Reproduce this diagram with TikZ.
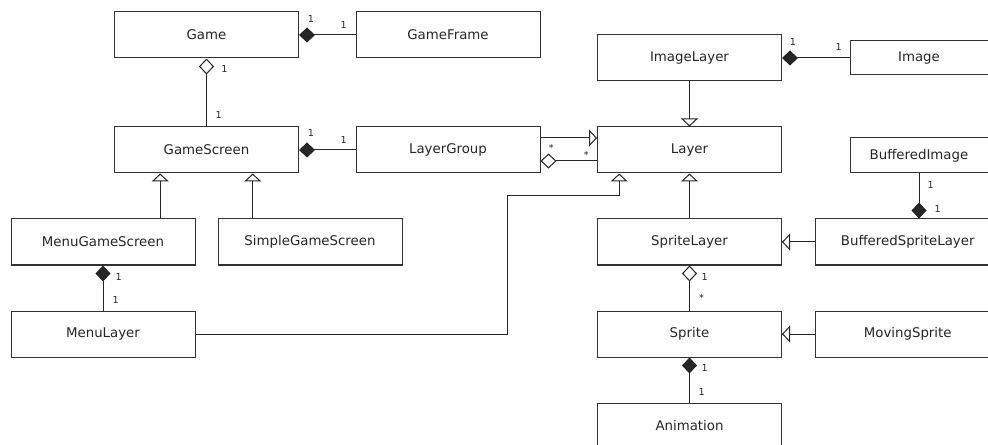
\documentclass[tikz,border=0pt]{standalone}
\usepackage{fontspec}
\setsansfont{DejaVu Sans}
\usetikzlibrary{
	positioning		% Allows above=5pt style placement of labels
	, arrows.meta	% Diamond and Triangle tips
	, calc			% Points part way along an edge
}

\begin{document}
\begin{tikzpicture}[
		x=0.75pt, y=-0.75pt,
		element/.style={
			rectangle,
			draw=black!80, line width=0.75pt,
			minimum width=138pt,
			minimum height=34.5pt,
			inner sep=0pt,
			text=black!85,
			font=\sffamily\fontsize{10}{12}\selectfont
		},
		smallelement/.style={
			element,
			minimum width=103.5pt
		},
		link/.style={
			draw=black!85,
			line width=0.75pt
		},
		generalise/.style={
			link,
			-{Triangle[open, length=6pt, width=12.75pt]}
		},
		compose/.style={
			link,
			{Diamond[length=12pt, width=11.25pt]}-
		},
		aggregate/.style={
			link,
			{Diamond[open, length=12pt, width=11.25pt]}-
		},
		mult/.style={
			inner sep=1pt,
			text=black!85,
			font=\sffamily\fontsize{7.2}{9}\selectfont
		}]

	\useasboundingbox (0,0) rectangle (988,445);

	%%% Draw all of the classes
	\foreach \cname/\px/\py in {Game/206.5/35, GameFrame/448/35, GameScreen/206.5/150,
			LayerGroup/448/150, MenuGameScreen/103/242, SimpleGameScreen/310/242,
			MenuLayer/103/334, ImageLayer/689.5/58, Layer/689.5/150, SpriteLayer/689.5/242,
			Sprite/689.5/334, Animation/689.5/426, BufferedSpriteLayer/907.7/242,
			MovingSprite/907.7/334} {
		\node [element] (cls\cname) at (\px,\py) {\cname};
	};
	\node [smallelement, minimum height=25.5pt] (clsImage) at (919,58) {Image};
	\node [smallelement, minimum height=26.25pt] (clsBufferedImage) at (919,155.5) {BufferedImage};

	%%% Compositions
	\draw [compose] (clsGame.east) -- node[mult, pos=.21, above=8pt] {1} node[mult, pos=.79, above=3.5pt] {1} (clsGameFrame.west);
	\draw [compose] (clsGameScreen.east) -- node[mult, pos=.21, above=8.5pt] {1} node[mult, pos=.79, above=3.5pt] {1} (clsLayerGroup.west);
	\draw [compose] (clsMenuGameScreen.south) -- node[mult, pos=.26, right=8pt] {1} node[mult, pos=.76, right=5.8pt] {1} (clsMenuLayer.north);
	\draw [compose] (clsImageLayer.east) -- node[mult, pos=.16, above=8pt] {1} node[mult, pos=.84, above=4.2pt] {1} (clsImage.west);
	\draw [compose] (clsBufferedSpriteLayer.north -| clsBufferedImage.south) -- node[mult, pos=.22, right=10.3pt] {1} node[mult, pos=.74, right=5.1pt] {1} (clsBufferedImage.south);
	\draw [compose] (clsSprite.south) -- node[mult, pos=.24, right=7.7pt] {1} node[mult, pos=.76, right=5.5pt] {1} (clsAnimation.north);

	%%% Aggregations
	\draw [aggregate] (clsGame.south) -- node[mult, pos=.16, right=9.7pt] {1} node[mult, pos=.83, right=5.5pt] {1} (clsGameScreen.north);
	\draw [aggregate] ([yshift=-8.25pt]clsLayerGroup.east) -- node[mult, pos=.19, above=5.5pt] {*} node[mult, pos=.81, above=0.5pt] {*} ([yshift=-8.25pt]clsLayerGroup.east -| clsLayer.west);
	\draw [aggregate] (clsSpriteLayer.south) -- node[mult, pos=.26, right=7.7pt] {1} node[mult, pos=.72, right=5.8pt] {*} (clsSprite.north);

	%%% Generalisations
	\coordinate (gsLeft) at ($(clsGameScreen.south west)!.25!(clsGameScreen.south east)$);
	\coordinate (gsRight) at ($(clsGameScreen.south west)!.75!(clsGameScreen.south east)$);
	\coordinate (layerFoot) at ($(clsLayer.south west)!.12!(clsLayer.south east)$);
	\coordinate (menuBend) at (507,196);
	\draw [generalise] (clsMenuGameScreen.north -| gsLeft) -- (gsLeft);
	\draw [generalise] (clsSimpleGameScreen.north -| gsRight) -- (gsRight);
	\draw [generalise] (clsMenuLayer.east) -| (menuBend) -| (layerFoot);
	\draw [generalise] ([yshift=9pt]clsLayerGroup.east) -- ([yshift=9pt]clsLayerGroup.east -| clsLayer.west);
	\draw [generalise] (clsImageLayer.south) -- (clsLayer.north);
	\draw [generalise] (clsSpriteLayer.north) -- (clsLayer.south);
	\draw [generalise] (clsBufferedSpriteLayer.west) -- (clsSpriteLayer.east);
	\draw [generalise] (clsMovingSprite.west) -- (clsSprite.east);

\end{tikzpicture}
\end{document}
